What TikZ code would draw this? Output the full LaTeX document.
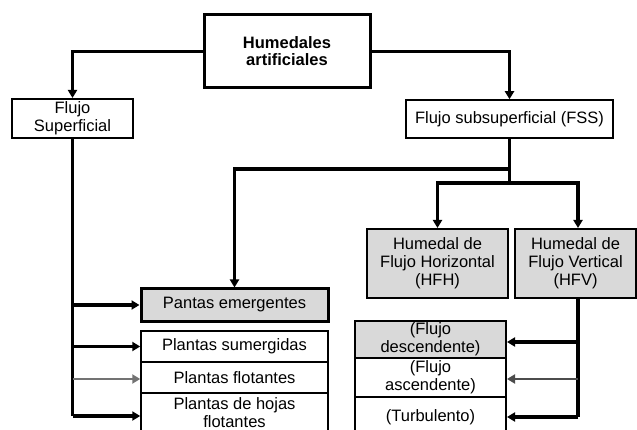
\documentclass[tikz,border=0pt]{standalone}
\usepackage{fontspec}
\setmainfont{Liberation Sans}
\usetikzlibrary{arrows.meta}
\definecolor{boxgray}{RGB}{217,217,217}
\begin{document}
\begin{tikzpicture}[x=1pt,y=-1pt,
  every node/.style={font=\fontsize{16.5}{18}\selectfont, align=center, inner sep=0pt},
  box/.style={draw, fill=white, line width=#1},
  box/.default=2pt,
  graybox/.style={draw, fill=boxgray, line width=#1},
  graybox/.default=2pt,
  wire/.style={line width=3.5pt, line join=miter},
  conn/.style={wire, -{Triangle[length=8pt,width=9pt]}},
  thinconn/.style={line width=2.4pt, -{Triangle[length=8pt,width=9pt]}}
]
\clip (0,0) rectangle (637,430);
\fill[white] (0,0) rectangle (637,430);

% nodes
\node[box=3pt, minimum width=166pt, minimum height=73pt,
      font=\bfseries\fontsize{16.5}{17}\selectfont] (top) at (287,51.5) {Humedales\\artificiales};
\node[box=2pt, minimum width=121pt, minimum height=39pt] (fs) at (72.5,118.5) {Flujo\\Superficial};
\node[box=1.5pt, minimum width=207pt, minimum height=38pt] (fss) at (509.5,119) {Flujo subsuperficial (FSS)};

\node[graybox=3pt, minimum width=187pt, minimum height=32pt] (pe) at (234.5,305) {Pantas emergentes};
\node[box=1.5pt, minimum width=187pt, minimum height=31pt] (ps) at (234.5,346.5) {Plantas sumergidas};
\node[box=1.5pt, minimum width=187pt, minimum height=31pt] (pf) at (234.5,377.5) {Plantas flotantes};
\node[box=1.5pt, minimum width=187pt, minimum height=46pt] (ph) at (234.5,416) {};
\node (phtext) at ([yshift=3pt]ph.center) {Plantas de hojas\\flotantes};

\node[graybox=2pt, minimum width=141pt, minimum height=69pt] (hfh) at (437.5,263.5) {Humedal de\\Flujo Horizontal\\(HFH)};
\node[graybox=2pt, minimum width=121pt, minimum height=69pt] (hfv) at (575.5,263.5) {Humedal de\\Flujo Vertical\\(HFV)};

\node[box=2pt, minimum width=151pt, minimum height=40pt] (tu) at (430.5,417) {(Turbulento)};
\node[box=2pt, minimum width=151pt, minimum height=39pt] (fa) at (430.5,377.5) {(Flujo\\ascendente)};
\node[graybox=2pt, minimum width=151pt, minimum height=37pt] (fd) at (430.5,339.5) {(Flujo\\descendente)};

% connectors from the top
\draw[conn] (top.west) -| (fs.north);
\draw[conn] (top.east) -| (fss.north);

\coordinate (b1) at (509.5,169);
\coordinate (b2) at (509.5,183);
\draw[wire] (fss.south) -- (b2);
\draw[conn] (b1) -| (pe.north);
\draw[conn] (b2) -| (hfh.north);
\draw[conn] (b2) -| ([xshift=2.5pt]hfv.north);

% left column
\draw[wire] (fs.south) -- (fs.south |- ph.west);
\draw[conn] (fs.south |- pe.west) -- (pe.west);
\draw[conn] (fs.south |- ps.west) -- (ps.west);
\draw[thinconn, draw=black!55, fill=black] ([yshift=-1.5pt]fs.south |- pf.west) -- ([yshift=-1.5pt]pf.west);
\draw[conn] (fs.south |- ph.west) -- (ph.west);

% right column
\coordinate (rv) at ([xshift=2.5pt]hfv.south);
\draw[wire] (rv) -- (rv |- tu.east);
\draw[conn] ([yshift=-2.5pt]rv |- fd.east) -- ([yshift=-2.5pt]fd.east);
\draw[thinconn, draw=black!70] ([yshift=-1.5pt]rv |- fa.east) -- ([yshift=-1.5pt]fa.east);
\draw[conn] (rv |- tu.east) -- (tu.east);
\end{tikzpicture}
\end{document}
